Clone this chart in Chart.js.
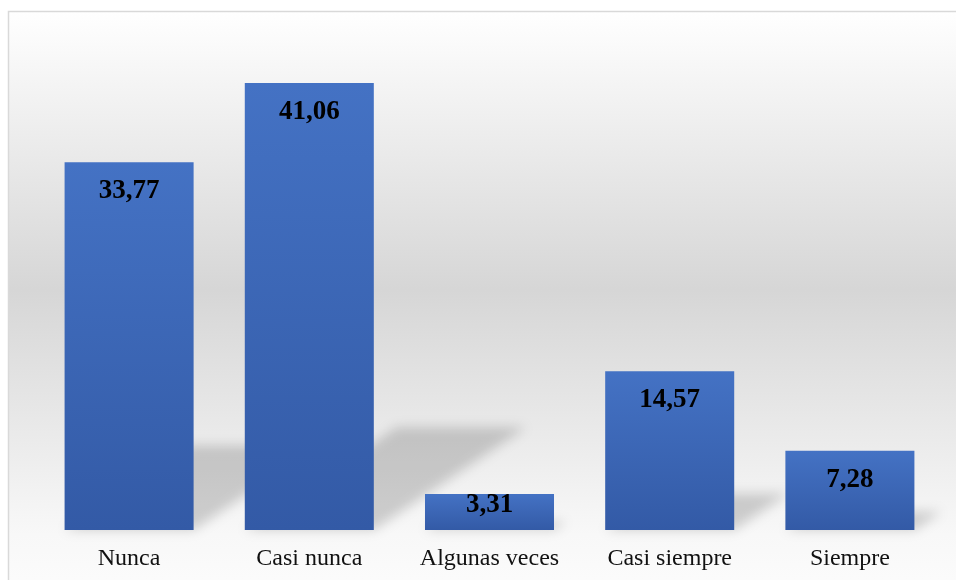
<!DOCTYPE html>
<html>
<head>
<meta charset="utf-8">
<script src="https://cdn.jsdelivr.net/npm/chart.js@4.4.1/dist/chart.umd.min.js"></script>
<style>
  html, body { margin: 0; padding: 0; background: #fff; }
  #wrap { width: 956px; height: 580px; position: relative; }
</style>
</head>
<body>
<div id="wrap"><canvas id="respuestasChart"></canvas></div>
<script>
// chart data
const categorias = ['Nunca', 'Casi nunca', 'Algunas veces', 'Casi siempre', 'Siempre'];
const porcentajes = [33.77, 41.06, 3.31, 14.57, 7.28];

function fmt(v) {
  return v.toFixed(2).replace('.', ',');
}

// background panel with soft vertical gradient + thin frame
const panelPlugin = {
  id: 'panel',
  beforeDraw(chart) {
    const c = chart.ctx;
    const w = chart.width, h = chart.height;
    const g = c.createLinearGradient(0, 11, 0, h);
    g.addColorStop(0, '#ffffff');
    g.addColorStop(0.49, '#d6d6d6');
    g.addColorStop(0.92, '#f8f8f8');
    g.addColorStop(1, '#fbfbfb');
    c.save();
    c.fillStyle = g;
    c.fillRect(8, 11, w - 8, h - 11);
    c.strokeStyle = '#d9d9d9';
    c.lineWidth = 1.5;
    c.beginPath();
    c.moveTo(8.5, h);
    c.lineTo(8.5, 11.5);
    c.lineTo(w, 11.5);
    c.stroke();
    c.restore();
  }
};

// perspective shadows behind the bars
const shadowPlugin = {
  id: 'barShadows',
  beforeDatasetsDraw(chart) {
    const c = chart.ctx;
    const meta = chart.getDatasetMeta(0);
    c.save();
    c.fillStyle = 'rgba(0,0,0,0.17)';
    c.filter = 'blur(6px)';
    meta.data.forEach(bar => {
      const hgt = bar.base - bar.y;
      const half = bar.width / 2;
      const dy = hgt * 0.23;
      const dx = hgt * 0.34;
      c.beginPath();
      c.moveTo(bar.x - half, bar.base);
      c.lineTo(bar.x + half, bar.base);
      c.lineTo(bar.x + half + dx, bar.base - dy);
      c.lineTo(bar.x - half + dx, bar.base - dy);
      c.closePath();
      c.fill();
    });
    c.restore();
  }
};

// value labels inside the top of each bar
const labelPlugin = {
  id: 'valueLabels',
  afterDatasetsDraw(chart) {
    const c = chart.ctx;
    const meta = chart.getDatasetMeta(0);
    c.save();
    c.font = 'bold 27px "Liberation Serif", "Times New Roman", serif';
    c.fillStyle = '#000';
    c.textAlign = 'center';
    c.textBaseline = 'middle';
    meta.data.forEach((bar, i) => {
      const hgt = bar.base - bar.y;
      const off = hgt > 60 ? 29 : hgt * 0.3;
      c.fillText(fmt(porcentajes[i]), bar.x, bar.y + off);
    });
    c.restore();
  }
};

function barFill(context) {
  const chart = context.chart;
  const y = chart.scales.y;
  if (!chart.chartArea || !y) return '#4472c4';
  const v = context.raw;
  const top = y.getPixelForValue(v);
  const base = y.getPixelForValue(0);
  if (!isFinite(top) || !isFinite(base) || top === base) return '#4472c4';
  const g = chart.ctx.createLinearGradient(0, top, 0, base);
  g.addColorStop(0, '#4472c4');
  g.addColorStop(1, '#335aa6');
  return g;
}

const ctx = document.getElementById('respuestasChart').getContext('2d');

const config = {
  type: 'bar',
  data: {
    labels: categorias,
    datasets: [
      {
        label: 'Porcentaje',
        data: porcentajes,
        backgroundColor: barFill,
        borderWidth: 0,
        categoryPercentage: 1,
        barPercentage: 0.716
      }
    ]
  },
  options: {
    responsive: true,
    maintainAspectRatio: false,
    animation: false,
    layout: {
      padding: { left: 39, right: 16, top: 40, bottom: 0 }
    },
    plugins: {
      legend: { display: false },
      tooltip: { enabled: false }
    },
    scales: {
      x: {
        grid: { display: false, drawTicks: false },
        border: { display: false },
        afterFit(scale) { scale.height = 50; },
        ticks: {
          color: '#111',
          padding: 14,
          font: { family: '"Liberation Serif", "Times New Roman", serif', size: 24 }
        }
      },
      y: {
        display: false,
        min: 0,
        max: 45
      }
    }
  },
  plugins: [panelPlugin, shadowPlugin, labelPlugin]
};

const respuestasChart = new Chart(ctx, config);
</script>
</body>
</html>
